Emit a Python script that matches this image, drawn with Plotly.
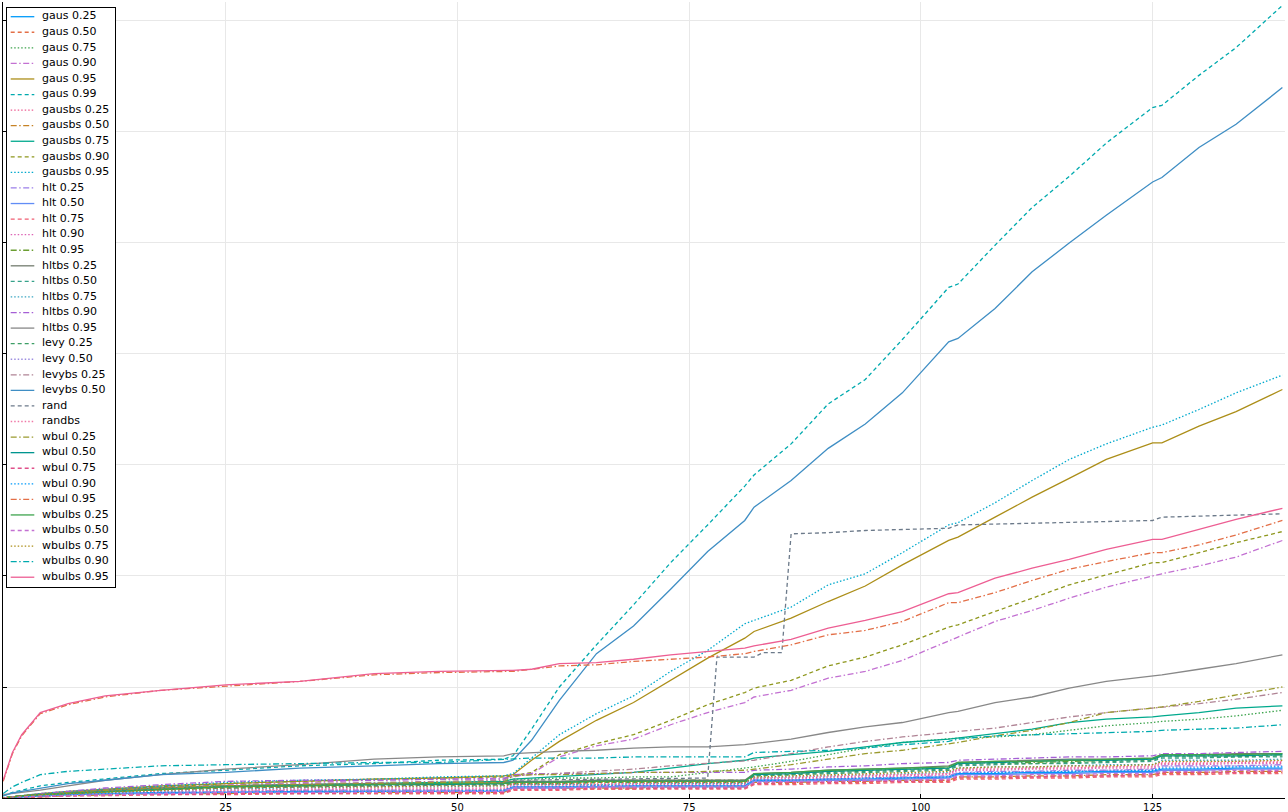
import plotly.graph_objects as go

# ---------------- data ----------------
X = [1, 2, 3, 5, 8, 12, 18, 25, 33, 41, 48, 55, 56, 58, 61, 65, 69, 73, 77, 81, 82,
     86, 90, 94, 98, 103, 104, 108, 112, 116, 120, 125, 126, 130, 134, 139]

X_RAND = [1, 5, 12, 25, 41, 55, 56, 65, 77, 78, 82, 83, 85, 86, 90, 94, 103, 104, 125, 126, 139]
rand = [0.0, 0.03, 0.06, 0.09, 0.11, 0.12, 0.16, 0.17, 0.18, 1.27, 1.27, 1.31, 1.31, 2.38, 2.39,
        2.41, 2.43, 2.46, 2.50, 2.53, 2.56]

gaus_025 = [0.0, 0.0, 0.01, 0.02, 0.03, 0.04, 0.05, 0.05, 0.06, 0.06, 0.06, 0.06, 0.10, 0.10, 0.10, 0.10, 0.11, 0.11, 0.11, 0.11, 0.16, 0.16, 0.17, 0.17, 0.18, 0.19, 0.22, 0.22, 0.23, 0.23, 0.24, 0.24, 0.26, 0.26, 0.27, 0.27]
gaus_050 = [0.0, 0.0, 0.01, 0.01, 0.02, 0.03, 0.03, 0.04, 0.04, 0.04, 0.04, 0.04, 0.08, 0.08, 0.08, 0.08, 0.08, 0.09, 0.09, 0.09, 0.13, 0.13, 0.14, 0.14, 0.15, 0.15, 0.18, 0.18, 0.19, 0.19, 0.20, 0.20, 0.22, 0.22, 0.23, 0.23]
gaus_075 = [0.0, 0.01, 0.02, 0.03, 0.05, 0.07, 0.09, 0.11, 0.12, 0.13, 0.14, 0.15, 0.17, 0.17, 0.18, 0.18, 0.19, 0.19, 0.23, 0.27, 0.28, 0.33, 0.39, 0.45, 0.50, 0.53, 0.54, 0.55, 0.57, 0.61, 0.65, 0.68, 0.69, 0.71, 0.74, 0.79]
gaus_090 = [0.0, 0.01, 0.02, 0.03, 0.05, 0.07, 0.10, 0.12, 0.14, 0.16, 0.17, 0.18, 0.19, 0.22, 0.37, 0.47, 0.53, 0.66, 0.77, 0.86, 0.91, 0.97, 1.08, 1.14, 1.24, 1.41, 1.45, 1.59, 1.69, 1.80, 1.90, 2.00, 2.02, 2.09, 2.17, 2.32]
gaus_095 = [0.0, 0.01, 0.02, 0.04, 0.06, 0.08, 0.11, 0.13, 0.15, 0.17, 0.18, 0.20, 0.21, 0.34, 0.51, 0.70, 0.86, 1.06, 1.26, 1.44, 1.50, 1.62, 1.77, 1.91, 2.10, 2.32, 2.35, 2.53, 2.71, 2.88, 3.05, 3.20, 3.20, 3.35, 3.48, 3.68]
gaus_099 = [0.02, 0.05, 0.07, 0.11, 0.14, 0.17, 0.22, 0.25, 0.29, 0.31, 0.34, 0.35, 0.38, 0.62, 1.00, 1.38, 1.74, 2.12, 2.46, 2.81, 2.91, 3.19, 3.55, 3.77, 4.13, 4.60, 4.63, 4.98, 5.32, 5.60, 5.90, 6.22, 6.24, 6.51, 6.76, 7.14]
gausbs_025 = [0.0, 0.01, 0.01, 0.02, 0.03, 0.04, 0.06, 0.07, 0.08, 0.08, 0.08, 0.08, 0.12, 0.12, 0.12, 0.12, 0.13, 0.13, 0.13, 0.13, 0.18, 0.18, 0.19, 0.20, 0.21, 0.22, 0.26, 0.26, 0.27, 0.27, 0.28, 0.28, 0.31, 0.31, 0.32, 0.32]
gausbs_050 = [0.0, 0.0, 0.01, 0.01, 0.02, 0.03, 0.04, 0.04, 0.05, 0.05, 0.05, 0.05, 0.09, 0.09, 0.09, 0.09, 0.09, 0.10, 0.10, 0.10, 0.14, 0.14, 0.15, 0.15, 0.16, 0.16, 0.19, 0.19, 0.20, 0.20, 0.21, 0.21, 0.23, 0.23, 0.24, 0.24]
gausbs_075 = [0.0, 0.01, 0.02, 0.03, 0.05, 0.07, 0.09, 0.11, 0.12, 0.13, 0.14, 0.15, 0.17, 0.18, 0.19, 0.21, 0.23, 0.27, 0.31, 0.34, 0.36, 0.39, 0.42, 0.46, 0.50, 0.53, 0.54, 0.58, 0.62, 0.68, 0.71, 0.73, 0.74, 0.77, 0.81, 0.83]
gausbs_090 = [0.0, 0.01, 0.02, 0.03, 0.05, 0.07, 0.10, 0.13, 0.15, 0.17, 0.18, 0.19, 0.20, 0.23, 0.39, 0.49, 0.57, 0.70, 0.84, 0.95, 0.99, 1.06, 1.19, 1.27, 1.38, 1.54, 1.56, 1.68, 1.80, 1.92, 2.01, 2.12, 2.12, 2.21, 2.30, 2.40]
gausbs_095 = [0.0, 0.01, 0.02, 0.04, 0.06, 0.08, 0.11, 0.14, 0.16, 0.17, 0.19, 0.20, 0.22, 0.36, 0.57, 0.76, 0.92, 1.14, 1.33, 1.57, 1.60, 1.72, 1.92, 2.02, 2.21, 2.46, 2.48, 2.66, 2.86, 3.05, 3.19, 3.34, 3.36, 3.50, 3.65, 3.81]
hlt_025 = [0.0, 0.01, 0.01, 0.02, 0.03, 0.04, 0.05, 0.06, 0.07, 0.07, 0.07, 0.07, 0.10, 0.10, 0.10, 0.11, 0.11, 0.11, 0.11, 0.11, 0.16, 0.16, 0.17, 0.18, 0.19, 0.20, 0.23, 0.24, 0.24, 0.25, 0.25, 0.26, 0.29, 0.29, 0.29, 0.30]
hlt_050 = [0.0, 0.0, 0.01, 0.02, 0.03, 0.04, 0.04, 0.05, 0.05, 0.06, 0.06, 0.06, 0.09, 0.09, 0.09, 0.10, 0.10, 0.10, 0.10, 0.10, 0.15, 0.15, 0.16, 0.16, 0.17, 0.18, 0.21, 0.21, 0.22, 0.22, 0.23, 0.23, 0.25, 0.25, 0.26, 0.26]
hlt_075 = [0.0, 0.0, 0.01, 0.01, 0.02, 0.02, 0.03, 0.03, 0.04, 0.04, 0.04, 0.04, 0.07, 0.07, 0.07, 0.08, 0.08, 0.08, 0.08, 0.08, 0.12, 0.12, 0.13, 0.13, 0.14, 0.14, 0.17, 0.17, 0.18, 0.18, 0.19, 0.19, 0.21, 0.21, 0.22, 0.22]
hlt_090 = [0.0, 0.01, 0.01, 0.02, 0.03, 0.04, 0.05, 0.06, 0.07, 0.07, 0.07, 0.07, 0.11, 0.11, 0.11, 0.11, 0.12, 0.12, 0.12, 0.12, 0.17, 0.17, 0.18, 0.19, 0.20, 0.21, 0.25, 0.25, 0.26, 0.26, 0.27, 0.27, 0.30, 0.30, 0.31, 0.31]
hlt_095 = [0.0, 0.01, 0.02, 0.03, 0.05, 0.07, 0.09, 0.11, 0.12, 0.13, 0.14, 0.14, 0.15, 0.15, 0.15, 0.15, 0.16, 0.16, 0.16, 0.16, 0.21, 0.22, 0.24, 0.25, 0.26, 0.27, 0.31, 0.32, 0.32, 0.33, 0.34, 0.35, 0.38, 0.38, 0.38, 0.39]
hltbs_025 = [0.0, 0.01, 0.02, 0.03, 0.05, 0.07, 0.09, 0.11, 0.12, 0.13, 0.13, 0.14, 0.15, 0.15, 0.15, 0.16, 0.16, 0.16, 0.16, 0.16, 0.22, 0.23, 0.25, 0.26, 0.27, 0.29, 0.32, 0.33, 0.34, 0.35, 0.35, 0.36, 0.39, 0.39, 0.40, 0.40]
hltbs_050 = [0.0, 0.01, 0.01, 0.02, 0.04, 0.06, 0.08, 0.10, 0.11, 0.11, 0.12, 0.12, 0.13, 0.13, 0.13, 0.14, 0.14, 0.14, 0.14, 0.14, 0.20, 0.21, 0.22, 0.23, 0.24, 0.25, 0.29, 0.30, 0.31, 0.31, 0.32, 0.33, 0.36, 0.36, 0.37, 0.37]
hltbs_075 = [0.0, 0.01, 0.01, 0.02, 0.03, 0.05, 0.06, 0.08, 0.09, 0.10, 0.10, 0.11, 0.12, 0.12, 0.12, 0.12, 0.13, 0.13, 0.13, 0.13, 0.18, 0.19, 0.20, 0.21, 0.22, 0.23, 0.27, 0.28, 0.28, 0.29, 0.30, 0.30, 0.34, 0.34, 0.34, 0.35]
hltbs_090 = [0.0, 0.01, 0.02, 0.04, 0.06, 0.09, 0.12, 0.15, 0.16, 0.16, 0.17, 0.17, 0.21, 0.22, 0.22, 0.22, 0.23, 0.23, 0.23, 0.23, 0.25, 0.26, 0.28, 0.29, 0.31, 0.32, 0.34, 0.35, 0.36, 0.37, 0.37, 0.38, 0.40, 0.40, 0.41, 0.42]
hltbs_095 = [0.03, 0.04, 0.05, 0.07, 0.11, 0.16, 0.21, 0.26, 0.30, 0.35, 0.37, 0.38, 0.40, 0.41, 0.42, 0.43, 0.45, 0.46, 0.46, 0.48, 0.49, 0.53, 0.59, 0.64, 0.68, 0.77, 0.78, 0.86, 0.91, 0.99, 1.05, 1.10, 1.11, 1.16, 1.21, 1.29]
levy_025 = [0.0, 0.01, 0.01, 0.02, 0.04, 0.06, 0.08, 0.09, 0.10, 0.11, 0.12, 0.12, 0.13, 0.13, 0.13, 0.14, 0.14, 0.14, 0.14, 0.14, 0.20, 0.21, 0.23, 0.24, 0.25, 0.26, 0.30, 0.31, 0.31, 0.32, 0.33, 0.34, 0.37, 0.37, 0.37, 0.38]
levy_050 = [0.0, 0.0, 0.01, 0.02, 0.03, 0.04, 0.05, 0.06, 0.06, 0.07, 0.07, 0.07, 0.10, 0.10, 0.10, 0.10, 0.10, 0.11, 0.11, 0.11, 0.15, 0.16, 0.17, 0.17, 0.18, 0.19, 0.23, 0.23, 0.24, 0.24, 0.25, 0.25, 0.28, 0.28, 0.29, 0.29]
levybs_025 = [0.0, 0.01, 0.02, 0.03, 0.05, 0.07, 0.09, 0.11, 0.13, 0.14, 0.15, 0.16, 0.20, 0.21, 0.22, 0.24, 0.26, 0.29, 0.31, 0.33, 0.34, 0.40, 0.46, 0.51, 0.55, 0.59, 0.60, 0.63, 0.68, 0.73, 0.77, 0.81, 0.82, 0.85, 0.89, 0.95]
levybs_050 = [0.02, 0.045, 0.06, 0.09, 0.13, 0.16, 0.21, 0.23, 0.27, 0.29, 0.31, 0.32, 0.34, 0.52, 0.88, 1.30, 1.55, 1.88, 2.22, 2.50, 2.62, 2.86, 3.15, 3.37, 3.65, 4.11, 4.14, 4.41, 4.74, 5.00, 5.25, 5.55, 5.59, 5.86, 6.07, 6.40]
randbs = [0.0, 0.01, 0.01, 0.02, 0.03, 0.04, 0.06, 0.07, 0.08, 0.09, 0.09, 0.09, 0.13, 0.13, 0.13, 0.13, 0.13, 0.14, 0.14, 0.14, 0.18, 0.19, 0.20, 0.21, 0.21, 0.22, 0.26, 0.27, 0.27, 0.28, 0.28, 0.29, 0.32, 0.32, 0.33, 0.33]
wbul_025 = [0.0, 0.01, 0.02, 0.03, 0.05, 0.07, 0.09, 0.11, 0.12, 0.13, 0.14, 0.14, 0.20, 0.21, 0.21, 0.22, 0.23, 0.23, 0.24, 0.25, 0.26, 0.30, 0.35, 0.40, 0.43, 0.49, 0.50, 0.56, 0.61, 0.68, 0.77, 0.81, 0.82, 0.87, 0.93, 1.00]
wbul_050 = [0.0, 0.01, 0.02, 0.03, 0.04, 0.06, 0.08, 0.10, 0.11, 0.12, 0.12, 0.13, 0.14, 0.14, 0.14, 0.15, 0.15, 0.15, 0.15, 0.15, 0.21, 0.22, 0.24, 0.25, 0.26, 0.27, 0.31, 0.32, 0.33, 0.34, 0.34, 0.35, 0.38, 0.38, 0.38, 0.39]
wbul_075 = [0.0, 0.0, 0.01, 0.01, 0.02, 0.03, 0.03, 0.04, 0.04, 0.05, 0.05, 0.05, 0.08, 0.08, 0.08, 0.09, 0.09, 0.09, 0.09, 0.09, 0.13, 0.14, 0.14, 0.15, 0.15, 0.16, 0.19, 0.19, 0.19, 0.20, 0.20, 0.21, 0.23, 0.23, 0.23, 0.24]
wbul_090 = [0.0, 0.0, 0.01, 0.02, 0.03, 0.04, 0.05, 0.05, 0.06, 0.06, 0.06, 0.07, 0.10, 0.10, 0.10, 0.11, 0.11, 0.11, 0.11, 0.11, 0.16, 0.16, 0.17, 0.18, 0.18, 0.19, 0.22, 0.23, 0.23, 0.24, 0.24, 0.25, 0.27, 0.27, 0.28, 0.28]
wbul_095 = [0.15, 0.40, 0.56, 0.76, 0.84, 0.91, 0.97, 1.01, 1.05, 1.11, 1.13, 1.14, 1.14, 1.16, 1.19, 1.20, 1.23, 1.25, 1.27, 1.30, 1.32, 1.38, 1.47, 1.51, 1.59, 1.76, 1.76, 1.85, 1.96, 2.06, 2.13, 2.21, 2.21, 2.28, 2.37, 2.50]
wbulbs_025 = [0.0, 0.01, 0.02, 0.03, 0.04, 0.06, 0.08, 0.10, 0.11, 0.12, 0.13, 0.13, 0.14, 0.14, 0.14, 0.15, 0.15, 0.15, 0.15, 0.15, 0.22, 0.23, 0.25, 0.26, 0.27, 0.28, 0.32, 0.33, 0.33, 0.34, 0.35, 0.36, 0.39, 0.39, 0.39, 0.40]
wbulbs_050 = [0.0, 0.01, 0.01, 0.02, 0.02, 0.03, 0.04, 0.05, 0.05, 0.05, 0.06, 0.06, 0.09, 0.09, 0.09, 0.10, 0.10, 0.10, 0.10, 0.10, 0.14, 0.15, 0.15, 0.16, 0.16, 0.17, 0.20, 0.20, 0.21, 0.21, 0.22, 0.22, 0.24, 0.24, 0.25, 0.25]
wbulbs_075 = [0.0, 0.01, 0.02, 0.03, 0.04, 0.05, 0.07, 0.09, 0.10, 0.10, 0.11, 0.11, 0.13, 0.13, 0.13, 0.14, 0.14, 0.14, 0.14, 0.14, 0.19, 0.20, 0.21, 0.22, 0.23, 0.24, 0.27, 0.28, 0.28, 0.29, 0.29, 0.30, 0.33, 0.33, 0.33, 0.34]
wbulbs_090 = [0.04, 0.10, 0.14, 0.21, 0.24, 0.26, 0.29, 0.30, 0.31, 0.32, 0.32, 0.35, 0.35, 0.36, 0.36, 0.36, 0.37, 0.37, 0.37, 0.37, 0.41, 0.42, 0.43, 0.45, 0.48, 0.51, 0.53, 0.56, 0.57, 0.58, 0.59, 0.60, 0.61, 0.62, 0.63, 0.66]
wbulbs_095 = [0.16, 0.41, 0.57, 0.77, 0.85, 0.92, 0.97, 1.02, 1.05, 1.12, 1.14, 1.15, 1.15, 1.16, 1.21, 1.22, 1.25, 1.29, 1.32, 1.35, 1.37, 1.43, 1.53, 1.60, 1.68, 1.84, 1.85, 1.98, 2.07, 2.15, 2.24, 2.33, 2.33, 2.42, 2.51, 2.61]

NAMES = ["gaus 0.25", "gaus 0.50", "gaus 0.75", "gaus 0.90", "gaus 0.95", "gaus 0.99",
         "gausbs 0.25", "gausbs 0.50", "gausbs 0.75", "gausbs 0.90", "gausbs 0.95",
         "hlt 0.25", "hlt 0.50", "hlt 0.75", "hlt 0.90", "hlt 0.95",
         "hltbs 0.25", "hltbs 0.50", "hltbs 0.75", "hltbs 0.90", "hltbs 0.95",
         "levy 0.25", "levy 0.50", "levybs 0.25", "levybs 0.50", "rand", "randbs",
         "wbul 0.25", "wbul 0.50", "wbul 0.75", "wbul 0.90", "wbul 0.95",
         "wbulbs 0.25", "wbulbs 0.50", "wbulbs 0.75", "wbulbs 0.90", "wbulbs 0.95"]

SERIES = [gaus_025, gaus_050, gaus_075, gaus_090, gaus_095, gaus_099,
          gausbs_025, gausbs_050, gausbs_075, gausbs_090, gausbs_095,
          hlt_025, hlt_050, hlt_075, hlt_090, hlt_095,
          hltbs_025, hltbs_050, hltbs_075, hltbs_090, hltbs_095,
          levy_025, levy_050, levybs_025, levybs_050, rand, randbs,
          wbul_025, wbul_050, wbul_075, wbul_090, wbul_095,
          wbulbs_025, wbulbs_050, wbulbs_075, wbulbs_090, wbulbs_095]

COLORS = ["#009AFA", "#E36F47", "#3EA44E", "#C371D2", "#AC8E18", "#00AAAE",
          "#ED5E93", "#C68225", "#00A98D", "#8E971D", "#00A9CD",
          "#9B7FE9", "#618DF6", "#F05F73", "#DD64B5", "#6B9E32",
          "#737C6F", "#36A28A", "#3AA6C2", "#A55FD5", "#888888",
          "#3D9E66", "#9D8EE0", "#B08495", "#3F8EC4", "#6C7A8A", "#F079A7",
          "#9A9A2E", "#00958F", "#E0508A", "#009AFA", "#E36F47",
          "#3EA44E", "#C371D2", "#AC8E18", "#00AAAE", "#ED5E93"]

DASHES = ["solid", "4px,3px", "1.5px,2px", "6px,2.5px,1.5px,2.5px"]

# ---------------- figure ----------------
fig = go.Figure()
for i, (name, ys) in enumerate(zip(NAMES, SERIES)):
    xs = X_RAND if name == "rand" else X
    fig.add_trace(go.Scatter(x=xs, y=ys, mode="lines", name=name,
                             line=dict(color=COLORS[i], width=1.3, dash=DASHES[i % 4]),
                             showlegend=False))

# hand-drawn legend in an inset subplot (Plotly's native legend rows are too tall)
row_y = [8.7 + 15.57 * i for i in range(len(NAMES))]
for i, name in enumerate(NAMES):
    fig.add_trace(go.Scatter(x=[3.7, 27.3], y=[row_y[i], row_y[i]], mode="lines",
                             line=dict(color=COLORS[i], width=1.3, dash=DASHES[i % 4]),
                             xaxis="x2", yaxis="y2", showlegend=False, hoverinfo="skip"))
fig.add_trace(go.Scatter(x=[35.0] * len(NAMES), y=row_y, mode="text", text=NAMES,
                         textposition="middle right",
                         textfont=dict(family="DejaVu Sans", size=11, color="black"),
                         xaxis="x2", yaxis="y2", showlegend=False, hoverinfo="skip"))

W, H = 1288, 812
L, R, T, B = 3, 3, 2, 14
pw, ph = W - L - R, H - T - B

fig.update_layout(
    width=W, height=H,
    margin=dict(l=L, r=R, t=T, b=B, pad=0),
    paper_bgcolor="white", plot_bgcolor="white",
    showlegend=False,
    font=dict(family="DejaVu Sans", size=10, color="black"),
    xaxis=dict(range=[0.98, 139.28], tickvals=[25, 50, 75, 100, 125],
               ticks="inside", ticklen=4, tickcolor="black", tickwidth=1,
               showline=True, linecolor="black", linewidth=1, mirror=False,
               showgrid=True, gridcolor="#E8E8E8", gridwidth=1, zeroline=False,
               tickfont=dict(family="DejaVu Sans", size=10, color="black"),
               automargin=False),
    yaxis=dict(range=[0, 7.171], tickvals=[1, 2, 3, 4, 5, 6, 7], showticklabels=False,
               ticks="inside", ticklen=4, tickcolor="black", tickwidth=1,
               showline=True, linecolor="black", linewidth=1, mirror=False,
               showgrid=True, gridcolor="#E8E8E8", gridwidth=1, zeroline=False,
               automargin=False),
    xaxis2=dict(domain=[(7 - L) / pw, (115 - L) / pw], range=[0, 108], anchor="y2",
                showline=True, mirror=True, linecolor="black", linewidth=1,
                showgrid=False, zeroline=False, showticklabels=False, ticks="",
                fixedrange=True),
    yaxis2=dict(domain=[(H - B - 587) / ph, (H - B - 8) / ph], range=[579, 0], anchor="x2",
                showline=True, mirror=True, linecolor="black", linewidth=1,
                showgrid=False, zeroline=False, showticklabels=False, ticks="",
                fixedrange=True),
)

fig.write_html("out.html",
               config={"displayModeBar": False},
               post_script="document.body.style.margin='0';document.body.style.padding='0';"
                           "document.body.style.overflow='hidden';")
